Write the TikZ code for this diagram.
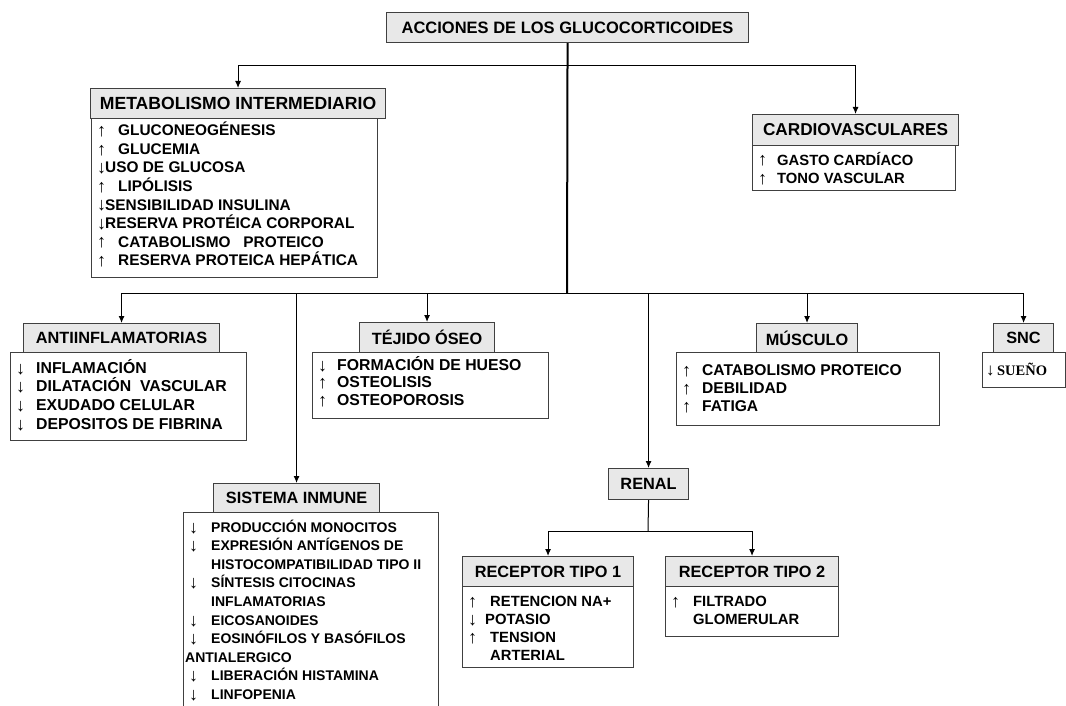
\documentclass[tikz,border=0pt]{standalone}
\usepackage{fontspec}
\setmainfont{Liberation Sans}
\newfontfamily\arfont{Liberation Sans}
\newfontfamily\serifbf{Liberation Serif}
\usetikzlibrary{arrows.meta,calc}

\definecolor{hdrfill}{HTML}{E8E8E8}
\definecolor{boxline}{HTML}{404040}

% thin arrow glyph followed by a fixed gap
\newlength\agap
\newcommand\argl[1]{\raisebox{-1pt}{\arfont\mdseries\fontsize{18}{18}\selectfont #1}}
\newcommand\arU[1][\agap]{\makebox[#1][l]{\argl{↑}}}
\newcommand\arD[1][\agap]{\makebox[#1][l]{\argl{↓}}}
\newcommand\arN{\hspace*{\agap}}

% rows of a body box: name, font size, first baseline, line spacing, arrow gap, list
\newcommand\rowsat[6]{%
  \foreach \txt [count=\i] in {#6} {%
    \node[rowtext, font=\fontsize{#2}{#2}\selectfont\bfseries] (#1-\i)
      at ($(#1.north west)+(6,{#3+(\i-1)*#4})$)
      {\setlength\agap{#5}\txt};
  }%
}

\tikzset{
  box/.style={draw=boxline, line width=1.1pt, inner sep=0pt, anchor=north west},
  hdr/.style={box, fill=hdrfill, font=\fontsize{16.3}{18}\selectfont\bfseries},
  body/.style={box, fill=white},
  rowtext/.style={anchor=base west, inner sep=0pt},
  conn/.style={draw=black, line width=1pt},
  arr/.style={conn, -{Latex[length=7pt,width=6pt]}},
  trunk/.style={draw=black, line width=2pt}
}

\begin{document}
\begin{tikzpicture}[x=1pt,y=-1pt]
\useasboundingbox (0,0) rectangle (1066,706);
\clip (0,0) rectangle (1066,706);

% title
\node[hdr, minimum width=362, minimum height=30, font=\fontsize{16.5}{18}\selectfont\bfseries]
  (title) at (386,12) {ACCIONES DE LOS GLUCOCORTICOIDES};

% body boxes
\node[body, minimum width=286, minimum height=159] (metb)  at (91,118) {};
\node[body, minimum width=203, minimum height=45]  (carb)  at (752,145) {};
\node[body, minimum width=236, minimum height=88]  (antib) at (10,352) {};
\node[body, minimum width=236, minimum height=66]  (tejib) at (312,352) {};
\node[body, minimum width=263, minimum height=73]  (muscb) at (676,352) {};
\node[body, minimum width=83,  minimum height=35]  (sncb)  at (982,352) {};
\node[body, minimum width=255, minimum height=210] (sistb) at (183,512) {};
\node[body, minimum width=171, minimum height=81]  (rec1b) at (462,586) {};
\node[body, minimum width=173, minimum height=50]  (rec2b) at (665,586) {};

% headers
\node[hdr, minimum width=295, minimum height=30, font=\fontsize{17.6}{18}\selectfont\bfseries]
  (met) at (90,88) {METABOLISMO INTERMEDIARIO};
\node[hdr, minimum width=206, minimum height=31, font=\fontsize{17.2}{18}\selectfont\bfseries]
  (car) at (752,114) {CARDIOVASCULARES};
\node[hdr, minimum width=196, minimum height=29] (anti)  at (23,323)  {ANTIINFLAMATORIAS};
\node[hdr, minimum width=135, minimum height=30] (teji)  at (359,322) {TÉJIDO ÓSEO};
\node[hdr, minimum width=101, minimum height=29] (musc)  at (756,323) {MÚSCULO};
\node[hdr, minimum width=60,  minimum height=29] (snc)   at (993,323) {SNC};
\node[hdr, minimum width=166, minimum height=29] (sist)  at (213,483) {SISTEMA INMUNE};
\node[hdr, minimum width=80,  minimum height=31] (renal) at (608,468) {RENAL};
\node[hdr, minimum width=171, minimum height=30] (rec1)  at (462,556) {RECEPTOR TIPO 1};
\node[hdr, minimum width=173, minimum height=30] (rec2)  at (665,556) {RECEPTOR TIPO 2};

% body texts
\rowsat{metb}{15.4}{18}{18.5}{21pt}{{\arU GLUCONEOGÉNESIS},{\arU GLUCEMIA},{\arD[8pt]USO DE GLUCOSA},
  {\arU LIPÓLISIS},{\arD[8pt]SENSIBILIDAD INSULINA},{\arD[8pt]RESERVA PROTÉICA CORPORAL},
  {\arU CATABOLISMO\ \ \ PROTEICO},{\arU RESERVA PROTEICA HEPÁTICA}}
\rowsat{carb}{14.8}{20}{19}{19pt}{{\arU GASTO CARDÍACO},{\arU TONO VASCULAR}}
\rowsat{antib}{15.8}{21}{18.7}{20pt}{{\arD INFLAMACIÓN},{\arD DILATACIÓN\ \ VASCULAR},
  {\arD EXUDADO CELULAR},{\arD DEPOSITOS DE FIBRINA}}
\rowsat{tejib}{15.8}{18}{17.5}{19pt}{{\arD FORMACIÓN DE HUESO},{\arU OSTEOLISIS},{\arU OSTEOPOROSIS}}
\rowsat{muscb}{15.6}{23}{18}{20pt}{{\arU CATABOLISMO PROTEICO},{\arU DEBILIDAD},{\arU FATIGA}}
\node[anchor=base west, inner sep=0pt, font=\serifbf\fontsize{14.5}{15}\selectfont\bfseries]
  (sncb-1) at ($(sncb.north west)+(4,23)$) {{\mdseries\fontsize{17}{17}\selectfont ↓}\,SUEÑO};
\rowsat{sistb}{14}{20}{18.6}{22pt}{{\arD PRODUCCIÓN MONOCITOS},{\arD EXPRESIÓN ANTÍGENOS DE},
  {\arN HISTOCOMPATIBILIDAD TIPO II},{\arD SÍNTESIS CITOCINAS},{\arN INFLAMATORIAS},
  {\arD EICOSANOIDES},{\arD EOSINÓFILOS Y BASÓFILOS},{\hspace*{-4pt}ANTIALERGICO},
  {\arD LIBERACIÓN HISTAMINA},{\arD LINFOPENIA}}
\rowsat{rec1b}{14.8}{20}{18.3}{22pt}{{\arU RETENCION NA+},{\arD[17pt]POTASIO},{\arU TENSION},{\arN ARTERIAL}}
\rowsat{rec2b}{14.8}{20}{18.5}{22pt}{{\arU FILTRADO},{\arN GLOMERULAR}}

% connectors
\coordinate (jtop) at (567,66);
\coordinate (jbot) at (567,293);
\draw[arr] (jtop) -| (met.north);
\draw[arr] (jtop) -| (car.north);
\draw[arr] (jbot) -| (anti.north);
\draw[arr] (jbot) -| (sist.north);
\draw[arr] (jbot) -| (teji.north);
\draw[arr] (jbot) -| (renal.north);
\draw[arr] (jbot) -| (musc.north);
\draw[arr] (jbot) -| (snc.north);
\draw[trunk] (title.south) -- (jbot);

\coordinate (rsplit) at (648,531);
\draw[conn] (renal.south) -- (rsplit);
\draw[arr] (rsplit) -| (rec1.north);
\draw[arr] (rsplit) -| (rec2.north);
\end{tikzpicture}
\end{document}
